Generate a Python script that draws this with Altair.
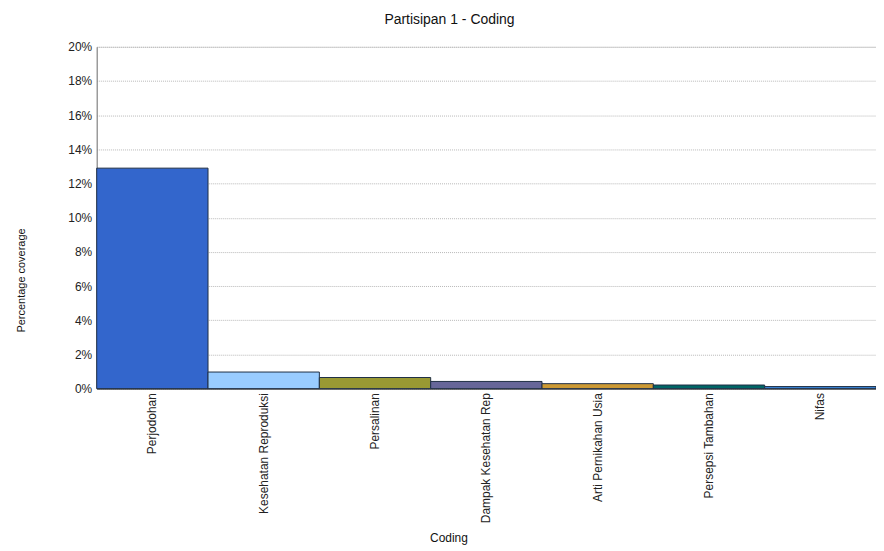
import altair as alt
import pandas as pd

categories = ["Perjodohan", "Kesehatan Reproduksi", "Persalinan", "Dampak Kesehatan Rep",
              "Arti Pernikahan Usia", "Persepsi Tambahan", "Nifas"]
coverage = [0.1290, 0.0097, 0.0065, 0.0042, 0.0029, 0.0021, 0.0012]
colors = ["#3366CC", "#99CCFF", "#999933", "#666699", "#CC9933", "#006666", "#3A86D9"]

df = pd.DataFrame({"Coding": categories, "Coverage": coverage})

font = "Liberation Sans"

chart = alt.Chart(df).mark_bar(stroke="#1f2f45", strokeWidth=1).encode(
    x=alt.X("Coding:N", sort=categories,
            scale=alt.Scale(paddingInner=0, paddingOuter=0),
            axis=alt.Axis(title="Coding", labelAngle=-90, labelAlign="right", labelBaseline="middle",
                          labelPadding=4, ticks=False, domainColor="#333333",
                          labelFont=font, labelFontSize=12, labelColor="#222222",
                          titleFont=font, titleFontSize=12, titleFontWeight="normal", titleColor="#111111",
                          titleX=353, titleY=149, titleBaseline="middle", titleAlign="center",
                          labelLimit=300)),
    y=alt.Y("Coverage:Q",
            scale=alt.Scale(domain=[0, 0.2], nice=False),
            axis=alt.Axis(title="Percentage coverage", format=".0%", values=[i / 100 for i in range(0, 21, 2)],
                          ticks=False, labelPadding=5, domainColor="#777777",
                          gridColor="#b8b8b8", gridDash=[1, 1], gridWidth=1,
                          labelFont=font, labelFontSize=12, labelColor="#222222",
                          titleFont=font, titleFontSize=11, titleFontWeight="normal", titleColor="#111111",
                          titleAngle=270, titleX=-75, titleY=234, titleAlign="center",
                          titleBaseline="middle")),
    color=alt.Color("Coding:N", sort=categories,
                    scale=alt.Scale(domain=categories, range=colors), legend=None),
).properties(
    width=782, height=343,
    title=alt.TitleParams("Partisipan 1 - Coding", font=font, fontSize=14, fontWeight="normal",
                          color="#111111", dx=-37, offset=14),
    autosize=alt.AutoSizeParams(type="none"),
    padding={"left": 89, "top": 38, "right": 0, "bottom": 158},
).configure_view(stroke=None).configure(background="white")

chart.save("out.html", embed_options={"renderer": "svg", "actions": False})
